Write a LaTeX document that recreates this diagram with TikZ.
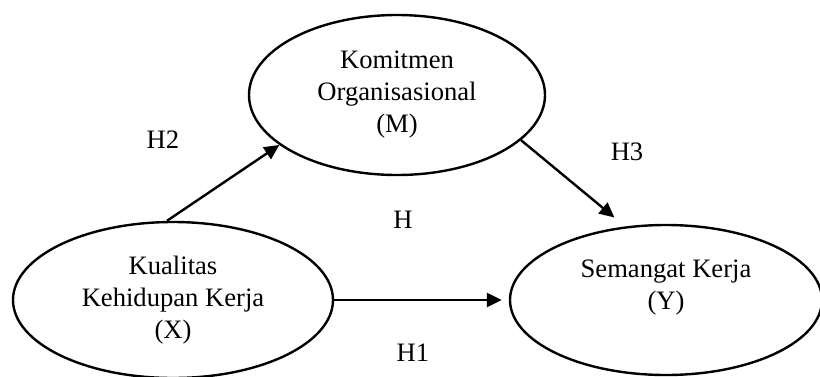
\documentclass[tikz,border=0pt]{standalone}
\usepackage{fontspec}
\setmainfont{Liberation Serif}
\usetikzlibrary{shapes.geometric,arrows.meta}
\begin{document}
\begin{tikzpicture}[x = 0.5pt, y = -0.5pt,
        var/.style = {draw, ellipse, line width = 1.2pt, inner sep = 0pt, align = center},
        path/.style = {line width = 1.2pt, -{Triangle[length = 7.5pt, width = 7pt]}},
        font = \fontsize{13.3}{16}\selectfont]
            \useasboundingbox (0,0) rectangle (820,376);
            \node[var, minimum width = 160pt, minimum height = 78pt] (X) at (173,300) {Kualitas\\Kehidupan Kerja\\(X)};
            \node[var, minimum width = 148pt, minimum height = 80pt] (M) at (397,95) {Komitmen\\Organisasional\\(M)};
            \node[var, minimum width = 156pt, minimum height = 75pt] (Y) at (666,300) {};
            \node[align = center] (ylab) at (666,288) {Semangat Kerja\\(Y)};
            \draw[path] ([xshift = -3pt]X.north) -- (M.203);
            \draw[path, shorten > = 7pt] (M.340) -- (Y.119);
            \draw[path, shorten > = 3.5pt] (X.east) -- (Y.west);
            \node (h2) at (163,140) {H2};
            \node (h3) at (627,152) {H3};
            \node (h) at (403,220) {H};
            \node (h1) at (413,353) {H1};
        \end{tikzpicture}
\end{document}
